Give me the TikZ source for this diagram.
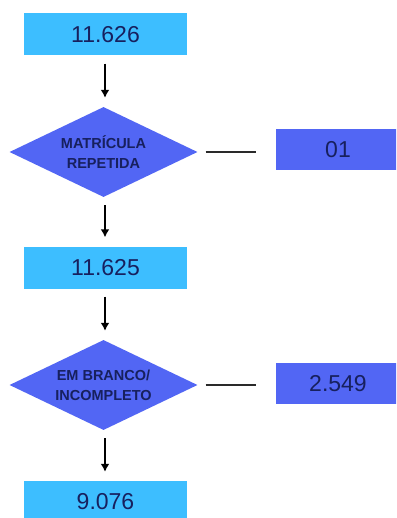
\documentclass[tikz,border=0pt]{standalone}
\usepackage{fontspec}
\setmainfont{Liberation Sans}
\usetikzlibrary{shapes.geometric,arrows.meta}

\definecolor{boxlight}{HTML}{3DBEFF}
\definecolor{boxdark}{HTML}{5266F4}
\definecolor{navy}{HTML}{17205E}
\definecolor{linegray}{HTML}{2A2A2A}

\tikzset{
  countbox/.style={rectangle, fill=boxlight, inner sep=0pt,
    minimum width=163pt, minimum height=42pt,
    text=navy, font=\fontsize{23}{26}\selectfont},
  outbox/.style={rectangle, fill=boxdark, inner sep=0pt,
    minimum width=124pt, minimum height=41pt,
    text=navy, font=\fontsize{23}{26}\selectfont},
  decision/.style={diamond, fill=boxdark, inner sep=0pt, aspect=2.1,
    minimum width=188pt, minimum height=90pt,
    text=navy, align=center, font=\bfseries\fontsize{14.5}{20}\selectfont},
  flow/.style={draw=black, line width=2.2pt, -{Latex[length=8pt,width=9pt]},
    shorten <=8pt, shorten >=9pt},
  branch/.style={draw=linegray, line width=2pt, shorten <=8pt, shorten >=20pt}
}

\begin{document}
\begin{tikzpicture}[x=1pt, y=-1pt]
  \clip (0,0) rectangle (396,518);
  \fill[white] (0,0) rectangle (396,518);

  % main column
  \node[countbox] (n1) at (105.5,34.5) {11.626};
  \node[decision] (d1) at (103.5,152) {MATRÍCULA\\REPETIDA};
  \node[countbox] (n2) at (105.5,267.5) {11.625};
  \node[decision] (d2) at (103.5,385) {EM BRANCO/\\INCOMPLETO};
  \node[countbox] (n3) at (105.5,502) {9.076};

  % side results
  \node[outbox] (o1) at (338,150) {01};
  \node[outbox] (o2) at (338,383.5) {2.549};

  % downward flow
  \draw[flow] (n1.south -| 105,0) -- (d1.north -| 105,0);
  \draw[flow] (d1.south -| 105,0) -- (n2.north -| 105,0);
  \draw[flow] (n2.south -| 105,0) -- (d2.north -| 105,0);
  \draw[flow] (d2.south -| 105,0) -- (n3.north -| 105,0);

  % side branches
  \draw[branch] (d1.east) -- (d1.east -| o1.west);
  \draw[branch] (d2.east) -- (d2.east -| o2.west);
\end{tikzpicture}
\end{document}
